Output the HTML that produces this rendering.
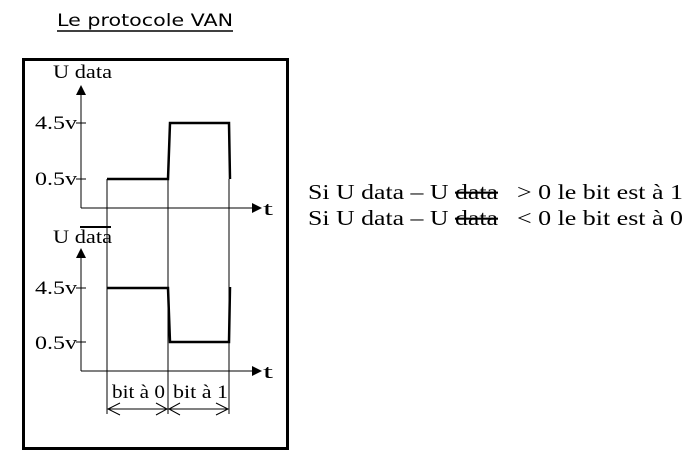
<!DOCTYPE html>
<html><head><meta charset="utf-8"><style>
html,body{margin:0;padding:0;background:#fff;}
svg{display:block;}
</style></head><body>
<svg width="698" height="457" viewBox="0 0 698 457" xmlns="http://www.w3.org/2000/svg">
<defs>
<marker id="ah" markerWidth="10" markerHeight="10" refX="9" refY="5" orient="auto" markerUnits="userSpaceOnUse"><path d="M0,0 L10,5 L0,10 z" fill="#000"/></marker>
</defs>
<text x="57" y="26" font-family="'DejaVu Sans',sans-serif" font-size="17" textLength="176" lengthAdjust="spacingAndGlyphs">Le protocole VAN</text>
<line x1="57" y1="31" x2="233" y2="31" stroke="#000" stroke-width="1.5"/>
<rect x="23.5" y="59.5" width="264" height="389" fill="none" stroke="#000" stroke-width="3"/>
<g font-family="'Liberation Serif',serif" font-size="19" fill="#000" lengthAdjust="spacingAndGlyphs">
<text x="53" y="78" textLength="59" lengthAdjust="spacingAndGlyphs">U data</text>
<text x="35" y="129" textLength="42" lengthAdjust="spacingAndGlyphs">4.5v</text>
<text x="35" y="185" textLength="42" lengthAdjust="spacingAndGlyphs">0.5v</text>
<text x="263" y="215" textLength="10" lengthAdjust="spacingAndGlyphs">t</text>
<text x="53" y="243" textLength="59" lengthAdjust="spacingAndGlyphs">U data</text>
<text x="35" y="294" textLength="42" lengthAdjust="spacingAndGlyphs">4.5v</text>
<text x="35" y="349" textLength="42" lengthAdjust="spacingAndGlyphs">0.5v</text>
<text x="263" y="378" textLength="10" lengthAdjust="spacingAndGlyphs">t</text>
<text x="112" y="398" textLength="53" lengthAdjust="spacingAndGlyphs">bit à 0</text>
<text x="173" y="398" textLength="55" lengthAdjust="spacingAndGlyphs">bit à 1</text>
</g>
<g stroke="#000" fill="none">
<line x1="81" y1="208" x2="81" y2="86" stroke-width="1" marker-end="url(#ah)"/>
<line x1="81" y1="208" x2="261" y2="208" stroke-width="1" marker-end="url(#ah)"/>
<line x1="76" y1="123" x2="86" y2="123"/>
<line x1="76" y1="179" x2="86" y2="179"/>
<polyline points="107,179 168,179 170,123 229,123 230,179" stroke-width="2.5"/>
<line x1="81" y1="371" x2="81" y2="249" stroke-width="1" marker-end="url(#ah)"/>
<line x1="81" y1="371" x2="261" y2="371" stroke-width="1" marker-end="url(#ah)"/>
<line x1="76" y1="288" x2="86" y2="288"/>
<line x1="76" y1="342" x2="86" y2="342"/>
<polyline points="107,288 168,288 170,342 229,342 230,287" stroke-width="2.5"/>
<line x1="80" y1="227" x2="111" y2="227" stroke-width="2"/>
<line x1="107" y1="179" x2="107" y2="414"/>
<line x1="168" y1="179" x2="168" y2="414"/>
<line x1="229" y1="179" x2="229" y2="414"/>
<line x1="108" y1="409" x2="228" y2="409"/>
<polyline points="120,403 108,409 120,415"/>
<polyline points="156,403 167,409 156,415"/>
<polyline points="180,403 169,409 180,415"/>
<polyline points="216,403 228,409 216,415"/>
</g>
<g font-family="'Liberation Serif',serif" font-size="21" fill="#000">
<text x="308" y="199" textLength="190" lengthAdjust="spacingAndGlyphs">Si U data – U <tspan text-decoration="line-through">data</tspan></text>
<text x="308" y="225" textLength="190" lengthAdjust="spacingAndGlyphs">Si U data – U <tspan text-decoration="line-through">data</tspan></text>
<text x="517" y="199" textLength="166" lengthAdjust="spacingAndGlyphs">&gt; 0 le bit est à 1</text>
<text x="517" y="225" textLength="166" lengthAdjust="spacingAndGlyphs">&lt; 0 le bit est à 0</text>
</g>
</svg>
</body></html>
